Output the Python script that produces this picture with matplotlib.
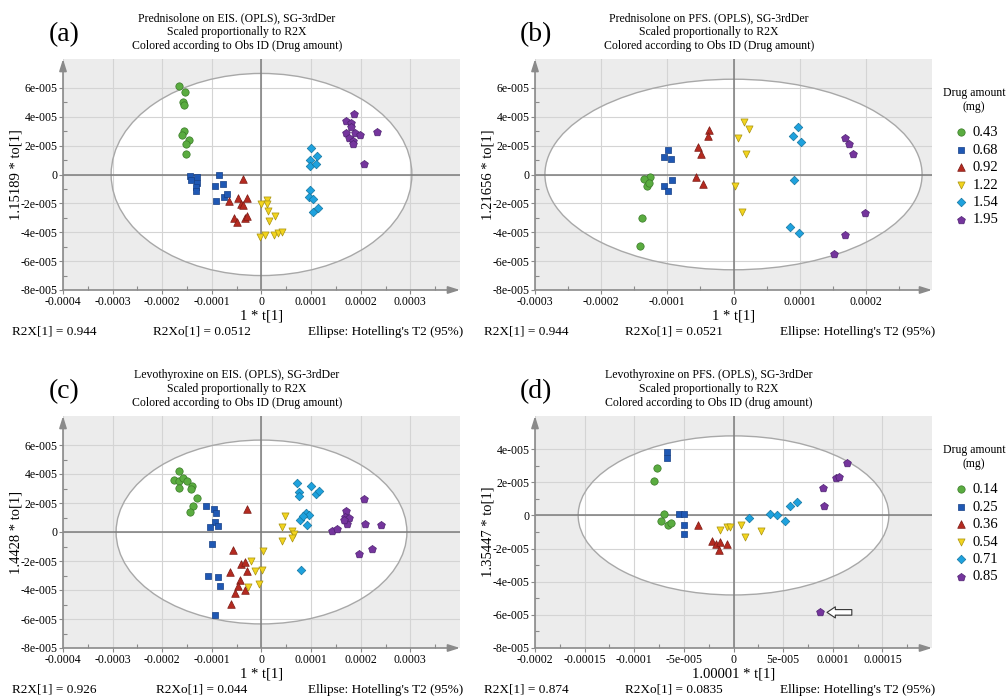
import numpy as np
import matplotlib.pyplot as plt
from matplotlib.patches import Ellipse

plt.rcParams['font.family'] = ['Liberation Serif', 'DejaVu Serif']

W, H = 1006, 698
SCALE = 1e-5  # scores below are stored in units of 1e-5

# group styling (shared by the four score plots)
fills = ['#5aac40', '#1f58b4', '#b52a20', '#f2d41e', '#1ea2de', '#75359d']
edges = ['#3a7a28', '#153f85', '#7a1a14', '#a89210', '#13749f', '#4d2170']
markers = ['o', 's', '^', 'v', 'D', 'p']
msizes = [28, 24, 30, 26, 19, 34]

# legend labels
pred_amounts = ['0.43', '0.68', '0.92', '1.22', '1.54', '1.95']
levo_amounts = ['0.14', '0.25', '0.36', '0.54', '0.71', '0.85']

# (a) Prednisolone on EIS
pred_eis_t = [
    [-16.7, -15.5, -15.9, -15.6, -15.7, -16.0, -14.7, -15.2, -15.3],
    [-14.5, -14.2, -13.0, -12.9, -13.2, -13.2, -8.55, -9.3, -7.8, -9.2, -7.6, -6.9],
    [-3.8, -6.5, -4.8, -3.0, -4.1, -3.8, -5.6, -4.9, -3.4, -2.9],
    [0.0, 1.14, 1.2, 1.3, 2.8, 1.5, -0.3, 0.8, 2.6, 3.3, 4.2],
    [9.9, 9.8, 11.1, 9.8, 10.9, 9.8, 9.6, 10.4, 10.4, 11.4],
    [18.7, 17.1, 18.0, 18.0, 17.0, 18.8, 19.9, 17.6, 18.5, 18.5, 23.2, 20.7],
]
pred_eis_to = [
    [6.11, 5.68, 5.0, 4.8, 3.0, 2.73, 2.4, 2.14, 1.45],
    [-0.07, -0.41, -0.18, -0.57, -0.86, -1.16, 0.0, -0.82, -0.68, -1.84, -1.55, -1.36],
    [-0.3, -1.84, -1.66, -1.66, -2.07, -2.1, -2.98, -3.3, -2.98, -2.84],
    [-2.07, -1.77, -2.05, -2.52, -2.84, -3.25, -4.32, -4.16, -4.16, -4.05, -3.98],
    [1.86, 1.02, 1.25, 0.61, 0.75, -1.09, -1.55, -1.73, -2.61, -2.34],
    [4.2, 3.68, 3.57, 3.27, 2.84, 2.84, 2.73, 2.5, 2.32, 2.09, 2.93, 0.73],
]

# (b) Prednisolone on PFS
pred_pfs_t = [
    [-12.56, -13.5, -13.0, -12.7, -13.8, -14.1],
    [-9.95, -10.55, -9.45, -9.3, -10.55, -9.85],
    [-3.7, -3.9, -5.4, -4.9, -5.7, -4.6],
    [1.6, 2.4, 0.65, 1.9, 0.25, 1.35],
    [9.8, 9.05, 10.25, 9.1, 8.5, 9.95],
    [16.8, 17.5, 18.1, 19.8, 16.8, 15.2],
]
pred_pfs_to = [
    [-0.14, -0.34, -0.77, -0.61, -2.98, -4.98],
    [1.7, 1.23, 1.09, -0.41, -0.8, -1.11],
    [3.11, 2.66, 1.91, 1.45, -0.14, -0.64],
    [3.64, 3.18, 2.5, 1.45, -0.8, -2.57],
    [3.3, 2.66, 2.23, -0.41, -3.66, -4.02],
    [2.55, 2.09, 1.41, -2.64, -4.2, -5.52],
]

# (c) Levothyroxine on EIS
levo_eis_t = [
    [-16.7, -17.6, -16.6, -15.8, -15.0, -16.6, -14.1, -14.2, -13.0, -13.8, -14.5],
    [-11.2, -9.5, -9.1, -9.3, -10.3, -8.75, -9.9, -10.85, -8.75, -8.4, -9.3],
    [-2.9, -5.8, -6.4, -4.1, -3.4, -2.9, -4.4, -4.8, -5.3, -3.4, -6.1],
    [4.7, 4.2, 6.2, 6.5, 4.2, 6.1, 0.3, -2.1, -1.4, 0.1, -2.8, -0.5],
    [7.1, 7.5, 7.5, 10.0, 10.9, 11.6, 8.9, 9.6, 7.7, 8.4, 9.2, 7.9],
    [20.7, 17.0, 16.8, 17.6, 17.3, 16.6, 14.3, 15.2, 20.9, 24.0, 19.7, 22.2],
]
levo_eis_to = [
    [4.22, 3.6, 3.55, 3.71, 3.53, 3.05, 3.18, 2.96, 2.34, 1.76, 1.35],
    [1.81, 1.6, 1.31, 0.69, 0.32, 0.39, -0.8, -3.0, -3.12, -3.69, -5.75],
    [1.6, -1.21, -2.77, -2.18, -2.08, -2.66, -3.28, -3.69, -4.19, -4.03, -4.95],
    [1.08, 0.32, 0.05, -0.14, -0.6, -0.41, -1.28, -1.97, -2.7, -2.59, -3.78, -3.62],
    [3.37, 2.77, 2.45, 3.18, 2.61, 2.8, 1.31, 1.15, 0.8, 1.08, 0.5, -2.59],
    [2.27, 1.47, 1.03, 0.96, 0.55, 0.8, 0.09, 0.23, 0.57, 0.5, -1.49, -1.17],
]

# (d) Levothyroxine on PFS
levo_pfs_t = [
    [-7.72, -8.0, -7.0, -7.3, -6.6, -6.3],
    [-6.75, -6.65, -5.47, -5.03, -5.03, -5.03],
    [-3.62, -2.2, -1.8, -1.4, -1.5, -0.7],
    [-1.34, -0.7, -0.34, 0.8, 1.14, 2.75],
    [1.58, 3.66, 4.43, 5.2, 5.7, 6.44],
    [11.4, 10.3, 10.6, 9.0, 9.13, 8.72],
]
levo_pfs_to = [
    [2.85, 2.05, 0.1, -0.32, -0.6, -0.46],
    [3.82, 3.46, 0.1, 0.1, -0.56, -1.1],
    [-0.56, -1.53, -1.71, -1.61, -2.07, -1.71],
    [-0.9, -0.68, -0.72, -0.56, -1.33, -0.96],
    [-0.16, 0.1, 0.0, -0.36, 0.54, 0.84],
    [3.16, 2.25, 2.29, 1.65, 0.54, -5.85],
]

# Hotelling's T2 (95%) ellipse semi-axes, units of 1e-5
ellipse_a = [30.3, 28.5, 29.3, 15.65]
ellipse_b = [7.0, 6.6, 6.34, 4.8]

titles = [
    ['Prednisolone on EIS. (OPLS), SG-3rdDer', 'Scaled proportionally to R2X',
     'Colored according to Obs ID (Drug amount)'],
    ['Prednisolone on PFS. (OPLS), SG-3rdDer', 'Scaled proportionally to R2X',
     'Colored according to Obs ID (Drug amount)'],
    ['Levothyroxine on EIS. (OPLS), SG-3rdDer', 'Scaled proportionally to R2X',
     'Colored according to Obs ID (Drug amount)'],
    ['Levothyroxine on PFS. (OPLS), SG-3rdDer', 'Scaled proportionally to R2X',
     'Colored according to Obs ID (drug amount)'],
]
panel_tags = ['(a)', '(b)', '(c)', '(d)']
ylabels = ['1.15189 * to[1]', '1.21656 * to[1]', '1.4428 * to[1]', '1.35447 * to[1]']
xlabels = ['1 * t[1]', '1 * t[1]', '1 * t[1]', '1.00001 * t[1]']
r2x = ['R2X[1] = 0.944', 'R2X[1] = 0.944', 'R2X[1] = 0.926', 'R2X[1] = 0.874']
r2xo = ['R2Xo[1] = 0.0512', 'R2Xo[1] = 0.0521', 'R2Xo[1] = 0.044', 'R2Xo[1] = 0.0835']

xt_wide = [-0.0004, -0.0003, -0.0002, -0.0001, 0, 0.0001, 0.0002, 0.0003]
xl_wide = ['-0.0004', '-0.0003', '-0.0002', '-0.0001', '0', '0.0001', '0.0002', '0.0003']
xt_mid = [-0.0003, -0.0002, -0.0001, 0, 0.0001, 0.0002]
xl_mid = ['-0.0003', '-0.0002', '-0.0001', '0', '0.0001', '0.0002']
xt_narrow = [-0.0002, -0.00015, -0.0001, -5e-5, 0, 5e-5, 0.0001, 0.00015]
xl_narrow = ['-0.0002', '-0.00015', '-0.0001', '-5e-005', '0', '5e-005', '0.0001', '0.00015']
yt_full = [6e-5, 4e-5, 2e-5, 0, -2e-5, -4e-5, -6e-5, -8e-5]
yl_full = ['6e-005', '4e-005', '2e-005', '0', '-2e-005', '-4e-005', '-6e-005', '-8e-005']
yt_short = yt_full[1:]
yl_short = yl_full[1:]


def fx(x):
    return x / W


def fy(y):
    return 1 - y / H


fig = plt.figure(figsize=(W / 100, H / 100), dpi=100)

# pixel boxes: left, top, right, bottom
boxes = [(63, 59, 460, 290), (535, 59, 932, 290), (63, 416, 460, 648), (535, 416, 932, 648)]
xlims = [(-0.0004, 0.0004), (-0.0003, 0.0003), (-0.0004, 0.0004), (-0.0002, 0.0002)]
ylims = [(-8e-5, 8e-5), (-8e-5, 8e-5), (-8e-5, 8e-5), (-8e-5, 6e-5)]
xticks = [(xt_wide, xl_wide), (xt_mid, xl_mid), (xt_wide, xl_wide), (xt_narrow, xl_narrow)]
yticks = [(yt_full, yl_full), (yt_full, yl_full), (yt_full, yl_full), (yt_short, yl_short)]
t_data = [pred_eis_t, pred_pfs_t, levo_eis_t, levo_pfs_t]
to_data = [pred_eis_to, pred_pfs_to, levo_eis_to, levo_pfs_to]
legend_labels = [None, pred_amounts, None, levo_amounts]

axis_grey = '#8a8a8a'

for i in range(4):
    L, T, R, B = boxes[i]
    ax = fig.add_axes([fx(L), fy(B), fx(R - L), (B - T) / H])
    ax.set_facecolor('#ececec')
    ax.set_xlim(*xlims[i])
    ax.set_ylim(*ylims[i])
    for s in ax.spines.values():
        s.set_visible(False)

    # confidence ellipse: white inside, grey outline on top of the grid
    ea, eb = ellipse_a[i] * SCALE * 2, ellipse_b[i] * SCALE * 2
    ax.add_patch(Ellipse((0, 0), ea, eb, facecolor='white', edgecolor='none', zorder=1))
    ax.add_patch(Ellipse((0, 0), ea, eb, facecolor='none', edgecolor='#a8a8a8',
                         lw=1.0, zorder=1.8))

    ax.set_axisbelow('line')
    ax.grid(True, color='#d4d4d4', lw=0.8)
    ax.axhline(0, color='#7c7c7c', lw=1.1, zorder=1.9)
    ax.axvline(0, color='#7c7c7c', lw=1.1, zorder=1.9)

    xt, xl = xticks[i]
    yt, yl = yticks[i]
    ax.set_xticks(xt)
    ax.set_xticklabels(xl)
    ax.set_yticks(yt)
    ax.set_yticklabels(yl)
    ax.set_xticks([(a + b) / 2 for a, b in zip(xt[:-1], xt[1:])] + [xt[-1] + (xt[1] - xt[0]) / 2],
                  minor=True)
    ax.set_yticks([(a + b) / 2 for a, b in zip(yt[:-1], yt[1:])], minor=True)
    ax.tick_params(which='major', direction='out', length=3, width=0.8, color=axis_grey,
                   labelsize=8.5, pad=1.0)
    ax.tick_params(which='minor', direction='in', length=3, width=0.8, color=axis_grey)

    # arrow-headed axes
    ax.annotate('', xy=(0, 1.0), xytext=(0, 0), xycoords='axes fraction',
                arrowprops=dict(arrowstyle='-|>,head_length=0.7,head_width=0.22',
                                color=axis_grey, lw=1.2, shrinkA=0, shrinkB=0), zorder=3)
    ax.annotate('', xy=(1.0, 0), xytext=(0, 0), xycoords='axes fraction',
                arrowprops=dict(arrowstyle='-|>,head_length=0.7,head_width=0.22',
                                color=axis_grey, lw=1.2, shrinkA=0, shrinkB=0), zorder=3)

    handles = []
    for g in range(6):
        h = ax.scatter(np.array(t_data[i][g]) * SCALE, np.array(to_data[i][g]) * SCALE,
                       marker=markers[g], s=msizes[g], facecolor=fills[g],
                       edgecolor=edges[g], linewidths=0.5, zorder=4)
        handles.append(h)

    if legend_labels[i] is not None:
        fig.text(fx(974), fy(T + 34), 'Drug amount', ha='center', va='center', fontsize=8.5)
        fig.text(fx(974), fy(T + 48), '(mg)', ha='center', va='center', fontsize=8.5)
        ax.legend(handles, legend_labels[i], loc='upper left',
                  bbox_to_anchor=(fx(957), fy(T + 67)), bbox_transform=fig.transFigure,
                  frameon=False, fontsize=10.5, handlelength=0.6,
                  handletextpad=0.45, labelspacing=0.29, borderpad=0, borderaxespad=0)

    # text around the plot
    for k, line in enumerate(titles[i]):
        fig.text(fx(L + 174), fy(T - 41 + 14 * k), line, ha='center', va='center', fontsize=8.5)
    fig.text(fx(L + 1), fy(T - 24), panel_tags[i], ha='center', va='center', fontsize=20)
    fig.text(fx(L - 47), fy((T + B) / 2), ylabels[i], rotation=90, ha='center',
             va='center', fontsize=10.5)
    fig.text(fx((L + R) / 2), fy(B + 26), xlabels[i], ha='center', va='center', fontsize=10.5)
    fig.text(fx(L - 51), fy(B + 42), r2x[i], ha='left', va='center', fontsize=9.5)
    fig.text(fx(L + 139), fy(B + 42), r2xo[i], ha='center', va='center', fontsize=9.5)
    fig.text(fx(R + 3), fy(B + 42), "Ellipse: Hotelling's T2 (95%)", ha='right',
             va='center', fontsize=9.5)

    # hollow arrow pointing at the outlying 0.85 mg observation
    if i == 3:
        px, py = levo_pfs_t[5][-1] * SCALE, levo_pfs_to[5][-1] * SCALE
        ax.annotate('', xy=(px + 0.7e-5, py), xytext=(px + 3.2e-5, py),
                    arrowprops=dict(arrowstyle='simple,head_length=0.6,head_width=0.8,tail_width=0.4',
                                    facecolor='white', edgecolor='#333333', lw=0.8,
                                    shrinkA=0, shrinkB=0), zorder=5)

fig.savefig('out.png', dpi=100)
